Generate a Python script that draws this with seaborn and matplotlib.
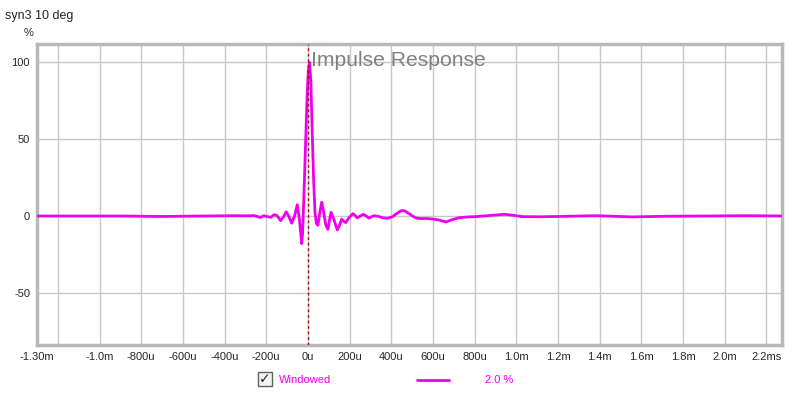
import numpy as np
import pandas as pd
import seaborn as sns
import matplotlib.pyplot as plt
from matplotlib.patches import Rectangle
from matplotlib.lines import Line2D

# impulse response, time in microseconds, amplitude in %
time_us = [-1300, -1100, -900, -700, -500, -350, -280, -260, -245, -228, -212, -195,
           -178, -162, -148, -131, -117, -104, -91, -78, -64, -51, -40, -30, -26, -22,
           -17, -10, -4, 2, 8, 14, 20, 27, 34, 41, 48, 57, 66, 75, 86, 96, 103, 111,
           124, 141, 152, 162, 172, 181, 198, 216, 226, 237, 252, 266, 280, 293, 305,
           317, 340, 360, 381, 405, 425, 446, 462, 480, 502, 520, 545, 566, 598, 630,
           662, 690, 726, 770, 806, 870, 942, 990, 1030, 1120, 1207, 1300, 1383, 1470,
           1558, 1700, 1900, 2100, 2280]
amp_pct = [0, 0, 0, -0.3, 0, 0.2, 0.1, 0.3, -0.2, -1.0, 0.2, -0.4,
           -0.9, 0.9, 0.2, -3.0, -0.5, 2.8, -0.5, -4.7, 0, 7.4, -3, -18, -12, 2,
           22, 52, 78, 95, 100, 88, 58, 25, 2, -5, -6, 2, 9, 3, -6, -8.7, -3, 2.4,
           -2, -9.1, -6, -2, -3.5, -4.3, -1, 1.5, 0.5, -1.2, 0, 1.1, 0, -1.4, -0.5,
           0.2, -0.3, -1.2, -1.6, -0.5, 1.5, 3.4, 3.5, 2, 0, -1.4, -1.7, -1.6, -2, -2.6,
           -3.9, -2.5, -1.1, -0.6, -0.4, 0.3, 1.1, 0.4, -0.4, -0.5, -0.3, 0, 0.2, -0.2,
           -0.6, -0.2, 0, 0.2, 0]

xtick_pos = [-1300, -1200, -1000, -800, -600, -400, -200, 0, 200, 400, 600, 800,
             1000, 1200, 1400, 1600, 1800, 2000, 2200]
xtick_labels = ['-1.30m', '', '-1.0m', '-800u', '-600u', '-400u', '-200u', '0u', '200u',
                '400u', '600u', '800u', '1.0m', '1.2m', '1.4m', '1.6m', '1.8m', '2.0m', '2.2ms']
ytick_pos = [-50, 0, 50, 100]

magenta = '#ee00ee'
W, H = 800, 395

sns.set_style('white')
plt.rcParams['font.family'] = ['Liberation Sans', 'DejaVu Sans']
plt.rcParams['axes.unicode_minus'] = False

fig = plt.figure(figsize=(W / 100, H / 100), dpi=100)
ax = fig.add_axes([37 / W, 1 - 345 / H, (782 - 37) / W, (345 - 44) / H])

df = pd.DataFrame({'t': time_us, 'v': amp_pct})
sns.lineplot(data=df, x='t', y='v', ax=ax, color=magenta, lw=2, zorder=3)

ax.axvline(0, color='#a01010', lw=1, ls=(0, (2, 2)), zorder=4)

ax.set_xlim(-1300, 2275)
ax.set_ylim(-84, 112)
ax.set_xticks(xtick_pos)
ax.set_xticklabels(xtick_labels)
ax.set_yticks(ytick_pos)
ax.tick_params(length=0, labelsize=8, pad=5)
ax.grid(True, color='#c8c8c8', lw=1)
ax.set_xlabel('')
ax.set_ylabel('')
for s in ax.spines.values():
    s.set_color('#b8b8b8')
    s.set_linewidth(2.5)

# texts
fig.text(5 / W, 1 - 16 / H, 'syn3 10 deg', fontsize=9, va='center', ha='left')
fig.text(29 / W, 1 - 33 / H, '%', fontsize=8, va='center', ha='center')
fig.text(311 / W, 1 - 61 / H, 'Impulse Response', fontsize=15.2, color='#808080',
         va='center', ha='left')

# legend row
fig.patches.append(Rectangle((258 / W, 1 - 386 / H), 14 / W, 14 / H, transform=fig.transFigure,
                             fc='#f4f4f4', ec='#606060', lw=1))
fig.text(265 / W, 1 - 379 / H, '\u2713', fontsize=10, fontweight='bold', ha='center',
         va='center', family=['DejaVu Sans'])
fig.text(279 / W, 1 - 380 / H, 'Windowed', fontsize=8, color=magenta, va='center', ha='left')
fig.lines.append(Line2D([417 / W, 449 / W], [1 - 380 / H, 1 - 380 / H], transform=fig.transFigure,
                        color=magenta, lw=2))
fig.text(485 / W, 1 - 380 / H, '2.0 %', fontsize=8, color=magenta, va='center', ha='left')

fig.savefig('out.png', dpi=100)
